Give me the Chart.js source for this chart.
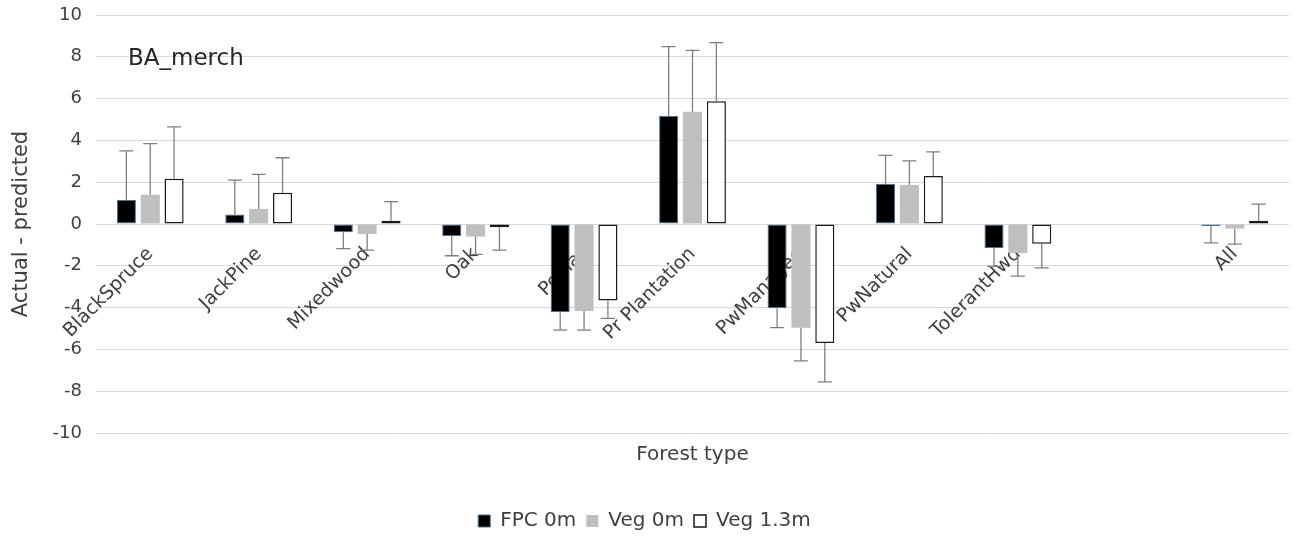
<!DOCTYPE html>
<html>
<head>
<meta charset="utf-8">
<script src="https://cdn.jsdelivr.net/npm/chart.js@4.4.0/dist/chart.umd.min.js"></script>
<style>
  html, body { margin: 0; padding: 0; background: #fff; }
</style>
</head>
<body>
<canvas id="barChart" width="1295" height="539"></canvas>
<script>
// categories (one empty slot before "All", as in the original)
var forestTypes = ['BlackSpruce', 'JackPine', 'Mixedwood', 'Oak', 'Poplar', 'Pr Plantation',
  'PwManaged', 'PwNatural', 'TolerantHwd', '', 'All'];

// mean differences (actual - predicted)
var fpc0m  = [1.15, 0.45, -0.40, -0.58, -4.22, 5.18, -4.03, 1.93, -1.15, null, -0.10];
var veg0m  = [1.40, 0.72, -0.48, -0.60, -4.16, 5.37, -4.97, 1.87, -1.39, null, -0.22];
var veg13m = [2.17, 1.50,  0.16, -0.16, -3.66, 5.87, -5.69, 2.30, -0.94, null,  0.15];

// one-sided error bar lengths
var fpc0mErr  = [2.35, 1.65, 0.78, 0.94, 0.86, 3.31, 0.93, 1.35, 0.88, null, 0.80];
var veg0mErr  = [2.45, 1.65, 0.77, 0.85, 0.92, 2.94, 1.58, 1.15, 1.10, null, 0.74];
var veg13mErr = [2.48, 1.67, 0.91, 1.09, 0.86, 2.81, 1.86, 1.15, 1.16, null, 0.80];

var yTicks = [-10, -8, -6, -4, -2, 0, 2, 4, 6, 8, 10];

var textColor = '#404040';
var fontFamily = '"DejaVu Sans", "Open Sans", sans-serif';

// draws error bars in the direction of each bar
var errorBars = {
  id: 'errorBars',
  afterDatasetsDraw: function(chart) {
    var ctx = chart.ctx;
    var yScale = chart.scales.y;
    ctx.save();
    ctx.strokeStyle = '#7f7f7f';
    ctx.lineWidth = 1.3;
    chart.data.datasets.forEach(function(ds, i) {
      var meta = chart.getDatasetMeta(i);
      meta.data.forEach(function(bar, j) {
        var v = ds.data[j];
        if (v === null) return;
        var e = ds.errors[j];
        var yEnd = yScale.getPixelForValue(v >= 0 ? v + e : v - e);
        var yStart = yScale.getPixelForValue(v);
        ctx.beginPath();
        ctx.moveTo(bar.x, yStart);
        ctx.lineTo(bar.x, yEnd);
        ctx.moveTo(bar.x - 7, yEnd);
        ctx.lineTo(bar.x + 7, yEnd);
        ctx.stroke();
      });
    });
    ctx.restore();
  }
};

// the "BA_merch" label inside the plot
var panelLabel = {
  id: 'panelLabel',
  afterDraw: function(chart) {
    var ctx = chart.ctx;
    ctx.save();
    ctx.font = '23px ' + fontFamily;
    ctx.fillStyle = '#262626';
    ctx.textBaseline = 'middle';
    ctx.fillText('BA_merch', 128, 59);
    ctx.restore();
  }
};

var ctx = document.getElementById('barChart').getContext('2d');
var chart = new Chart(ctx, {
  type: 'bar',
  data: {
    labels: forestTypes,
    datasets: [
      {
        label: 'FPC 0m',
        data: fpc0m,
        errors: fpc0mErr,
        backgroundColor: '#000000',
        borderColor: '#41719c',
        borderWidth: 1,
        borderSkipped: false
      },
      {
        label: 'Veg 0m',
        data: veg0m,
        errors: veg0mErr,
        backgroundColor: '#bfbfbf',
        borderColor: '#bfbfbf',
        borderWidth: 0,
        borderSkipped: false
      },
      {
        label: 'Veg 1.3m',
        data: veg13m,
        errors: veg13mErr,
        backgroundColor: '#ffffff',
        borderColor: '#1a1a1a',
        borderWidth: 1.5,
        borderSkipped: false
      }
    ]
  },
  options: {
    responsive: false,
    animation: false,
    devicePixelRatio: 1,
    categoryPercentage: 0.66,
    barPercentage: 0.8,
    layout: { padding: { top: 15, right: 6, bottom: -2, left: 0 } },
    scales: {
      x: {
        position: { y: 0 },
        grid: { display: false },
        border: { display: false },
        ticks: {
          autoSkip: false,
          minRotation: 45,
          maxRotation: 45,
          padding: 11,
          color: textColor,
          font: { family: fontFamily, size: 19 }
        }
      },
      x2: {
        axis: 'x',
        type: 'category',
        labels: forestTypes,
        position: 'bottom',
        grid: { display: false, drawTicks: false },
        border: { display: false },
        ticks: { display: false },
        title: {
          display: true,
          text: 'Forest type',
          color: textColor,
          font: { family: fontFamily, size: 20 },
          padding: { top: 10, bottom: 34 }
        }
      },
      y: {
        min: -10,
        max: 10,
        afterFit: function(scale) {
          scale.width = 96;
          scale.paddingTop = 0;
          scale.paddingBottom = 0;
        },
        afterBuildTicks: function(scale) {
          scale.ticks = yTicks.map(function(v) { return { value: v }; });
        },
        grid: { color: '#d9d9d9', lineWidth: 1, drawTicks: false },
        border: { display: false },
        ticks: {
          padding: 14,
          color: textColor,
          font: { family: fontFamily, size: 18 }
        },
        title: {
          display: true,
          text: 'Actual - predicted',
          color: textColor,
          font: { family: fontFamily, size: 21 },
          padding: { top: 9, bottom: 0 }
        }
      }
    },
    plugins: {
      legend: {
        position: 'bottom',
        labels: {
          boxWidth: 12,
          boxHeight: 12,
          padding: 10,
          color: textColor,
          font: { family: fontFamily, size: 20 }
        }
      },
      tooltip: { enabled: false }
    }
  },
  plugins: [errorBars, panelLabel]
});
</script>
</body>
</html>
